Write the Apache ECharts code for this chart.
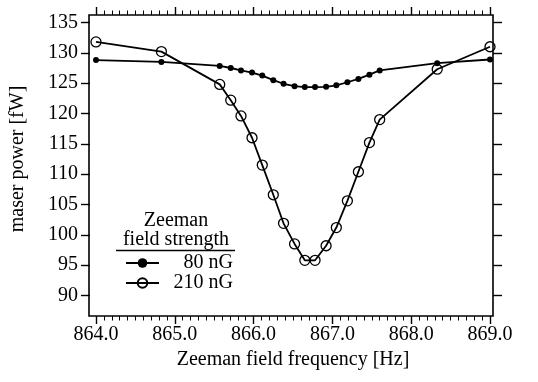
<!DOCTYPE html>
<html><head><meta charset="utf-8">
<script src="https://cdn.jsdelivr.net/npm/echarts@6/dist/echarts.min.js"></script>
<style>html,body{margin:0;padding:0;background:#fff}#c{width:538px;height:382px}</style>
</head><body><div id="c"></div>
<script>
// Zeeman field frequency [Hz]
const frequency = [864.0, 864.83, 865.57, 865.71, 865.84, 865.98, 866.11, 866.25, 866.38, 866.52,
                   866.65, 866.78, 866.92, 867.05, 867.19, 867.33, 867.47, 867.60, 868.33, 869.0];
// maser power [fW], 80 nG field strength
const power80 = [128.8, 128.5, 127.85, 127.5, 127.1, 126.75, 126.25, 125.5, 124.9, 124.5,
                 124.35, 124.35, 124.4, 124.65, 125.15, 125.7, 126.4, 127.1, 128.3, 128.9];
// maser power [fW], 210 nG field strength
const power210 = [131.8, 130.2, 124.8, 122.2, 119.6, 116.0, 111.5, 106.6, 101.9, 98.5,
                  95.8, 95.8, 98.2, 101.2, 105.6, 110.4, 115.2, 119.0, 127.3, 131.0];
const seriesNames = ['80 nG', '210 nG'];
const xMin = 864, xMax = 869, xStep = 1;
const yMin = 90, yMax = 135, yStep = 5;

const FONT = 'Liberation Serif';
const FS = 20;
const chart = echarts.init(document.getElementById('c'), null, {renderer: 'canvas'});

const xCommon = {
  type: 'value', min: xMin, max: xMax, interval: xStep, gridIndex: 0,
  axisLine: {show: false}, splitLine: {show: false},
  axisTick: {show: true, length: 8, lineStyle: {color: '#000', width: 1.4}},
  minorTick: {show: true, splitNumber: 10, length: 4.5, lineStyle: {color: '#000', width: 1}},
  minorSplitLine: {show: false}
};
const yCommon = {
  type: 'value', min: yMin, max: yMax, interval: yStep, gridIndex: 0,
  axisLine: {show: false}, splitLine: {show: false},
  axisTick: {show: true, length: 9, lineStyle: {color: '#000', width: 1.4}}
};

const option = {
  animation: false,
  backgroundColor: '#fff',
  grid: [
    {left: 95, right: 48, top: 22.5, bottom: 86.5},
    {left: 89, top: 15, width: 404, height: 301, show: true, borderColor: '#000', borderWidth: 1.6, backgroundColor: 'transparent'}
  ],
  xAxis: [
    Object.assign({}, xCommon, {
      position: 'bottom', offset: 20.5,
      axisLabel: {show: true, margin: 9, fontFamily: FONT, fontSize: FS, color: '#000',
                  formatter: v => v.toFixed(1)},
      name: 'Zeeman field frequency [Hz]', nameLocation: 'middle', nameGap: 33,
      nameTextStyle: {fontFamily: FONT, fontSize: FS, color: '#000'}
    }),
    Object.assign({}, xCommon, {position: 'top', offset: 7.5, axisLabel: {show: false}}),
    {gridIndex: 1, type: 'value', show: false, min: 0, max: 1}
  ],
  yAxis: [
    Object.assign({}, yCommon, {
      position: 'left', offset: 6,
      axisLabel: {show: true, margin: 12, fontFamily: FONT, fontSize: FS, color: '#000'},
      name: 'maser power [fW]', nameLocation: 'middle', nameGap: 62, nameRotate: 90,
      nameTextStyle: {fontFamily: FONT, fontSize: FS, color: '#000'}
    }),
    Object.assign({}, yCommon, {position: 'right', offset: 3, axisLabel: {show: false}}),
    {gridIndex: 1, type: 'value', show: false, min: 0, max: 1}
  ],
  legend: {
    data: seriesNames, orient: 'vertical', left: 125, top: 253, padding: 0,
    itemWidth: 33, itemHeight: 12, itemGap: 0,
    formatter: n => '{t|' + n + '}',
    textStyle: {fontFamily: FONT, fontSize: FS, color: '#000',
      rich: {t: {width: 69, align: 'right', fontFamily: FONT, fontSize: FS, color: '#000', lineHeight: 20}}}
  },
  graphic: [
    {type: 'text', style: {text: 'Zeeman', x: 176, y: 221, align: 'center', verticalAlign: 'middle',
      font: FS + 'px "' + FONT + '"', fill: '#000'}},
    {type: 'text', style: {text: 'field strength', x: 176, y: 240, align: 'center', verticalAlign: 'middle',
      font: FS + 'px "' + FONT + '"', fill: '#000'}},
    {type: 'line', shape: {x1: 116, y1: 250.5, x2: 235, y2: 250.5}, style: {stroke: '#000', lineWidth: 1.6}}
  ],
  series: [
    {
      name: seriesNames[0], type: 'line', xAxisIndex: 0, yAxisIndex: 0,
      data: frequency.map((f, i) => [f, power80[i]]),
      symbol: 'circle', symbolSize: 6,
      lineStyle: {color: '#000', width: 1.8},
      itemStyle: {color: '#000', borderWidth: 0}
    },
    {
      name: seriesNames[1], type: 'line', xAxisIndex: 0, yAxisIndex: 0,
      data: frequency.map((f, i) => [f, power210[i]]),
      symbol: 'circle', symbolSize: 10,
      lineStyle: {color: '#000', width: 1.8},
      itemStyle: {color: 'rgba(0,0,0,0)', borderColor: '#000', borderWidth: 1.3}
    }
  ]
};
chart.setOption(option);
</script>
</body></html>
